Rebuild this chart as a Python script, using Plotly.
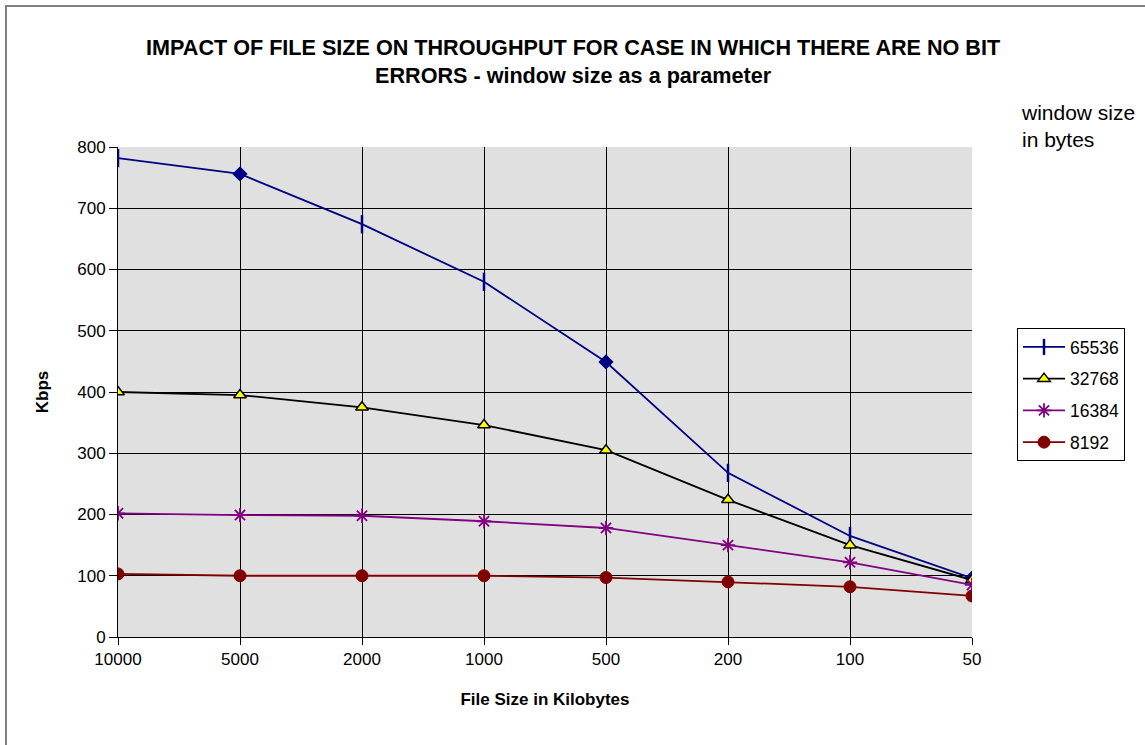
import plotly.graph_objects as go

file_sizes = ["10000", "5000", "2000", "1000", "500", "200", "100", "50"]
kbps_65536 = [782, 756, 674, 580, 449, 268, 165, 96]
kbps_32768 = [400, 395, 375, 346, 305, 224, 150, 93]
kbps_16384 = [202, 199, 198, 189, 178, 150, 122, 85]
kbps_8192 = [103, 100, 100, 100, 97, 90, 82, 67]
y_ticks = [0, 100, 200, 300, 400, 500, 600, 700, 800]

W, H = 1145, 745
L, R, T, B = 118, 173, 147, 108
pw, ph = W - L - R, H - T - B

font = "Liberation Sans, Arial, sans-serif"

fig = go.Figure()

# 65536 series: vertical-dash markers, with diamonds on a few points
sym_65536 = ["line-ns", "diamond", "line-ns", "line-ns", "diamond", "line-ns", "line-ns", "diamond"]
size_65536 = [13, 9, 13, 13, 9, 13, 13, 9]
fig.add_trace(go.Scatter(
    x=file_sizes, y=kbps_65536, name="65536", mode="lines+markers", legendgroup="a",
    line=dict(color="#000080", width=1.8),
    marker=dict(symbol=sym_65536, size=size_65536, color="#000080", opacity=1,
                line=dict(color="#000080", width=2.5)),
))
fig.add_trace(go.Scatter(
    x=file_sizes, y=kbps_32768, name="32768", mode="lines+markers", legendgroup="b",
    line=dict(color="#000000", width=1.8),
    marker=dict(symbol="triangle-up", size=11, color="#ffff00", opacity=1,
                line=dict(color="#000000", width=1.5)),
))
fig.add_trace(go.Scatter(
    x=file_sizes, y=kbps_16384, name="16384", mode="lines+markers", legendgroup="c",
    line=dict(color="#800080", width=1.8),
    marker=dict(symbol="asterisk-open", size=12, color="#800080", opacity=1,
                line=dict(color="#800080", width=1.8)),
))
fig.add_trace(go.Scatter(
    x=file_sizes, y=kbps_8192, name="8192", mode="lines+markers", legendgroup="d",
    line=dict(color="#800000", width=1.8),
    marker=dict(symbol="circle", size=12, color="#800000", opacity=1,
                line=dict(color="#800000", width=1)),
))

# outer chart frame
fig.add_shape(type="rect", xref="paper", yref="paper",
              x0=(6 - L) / pw, x1=(W + 10 - L) / pw,
              y0=-(B + 10) / ph, y1=(H - 6 - B) / ph,
              line=dict(color="#808080", width=2), fillcolor="rgba(0,0,0,0)",
              layer="below")

fig.add_annotation(
    text="<b>IMPACT OF FILE SIZE ON THROUGHPUT FOR CASE IN WHICH THERE ARE NO BIT<br>ERRORS - window size as a parameter</b>",
    xref="paper", yref="paper", x=(573 - L) / pw, y=(H - 62 - B) / ph,
    xanchor="center", yanchor="middle", showarrow=False,
    font=dict(family=font, size=21.6, color="#000000"), align="center",
)
fig.add_annotation(
    text="window size<br>in bytes",
    xref="paper", yref="paper", x=(1019 - L) / pw, y=(H - 126 - B) / ph,
    xanchor="left", yanchor="middle", showarrow=False, align="left",
    font=dict(family=font, size=21, color="#000000"),
)

fig.update_layout(
    width=W, height=H,
    margin=dict(l=L, r=R, t=T, b=B),
    paper_bgcolor="#ffffff", plot_bgcolor="#e0e0e0",
    font=dict(family=font, size=17, color="#000000"),
    showlegend=True,
    legend=dict(
        x=(1017 - L) / pw, y=(H - 328 - B) / ph, xanchor="left", yanchor="top",
        bordercolor="#000000", borderwidth=1, bgcolor="#ffffff",
        font=dict(family=font, size=17.5), tracegroupgap=6,
        itemwidth=42,
    ),
    xaxis=dict(
        type="category", range=[0, len(file_sizes) - 1],
        showgrid=True, gridcolor="#000000", gridwidth=1,
        showline=True, linecolor="#000000", linewidth=1, mirror=False,
        ticks="outside", ticklen=7, tickcolor="#000000",
        title=dict(text="<b>File Size in Kilobytes</b>", font=dict(size=17), standoff=24),
        tickfont=dict(size=17),
    ),
    yaxis=dict(
        range=[0, 800], tickvals=y_ticks,
        showgrid=True, gridcolor="#000000", gridwidth=1,
        showline=True, linecolor="#000000", linewidth=1,
        ticks="outside", ticklen=8, tickcolor="#000000",
        title=dict(text="<b>Kbps</b>", font=dict(size=17), standoff=24),
        tickfont=dict(size=17),
        zeroline=False,
    ),
)

fig.write_html("out.html")
